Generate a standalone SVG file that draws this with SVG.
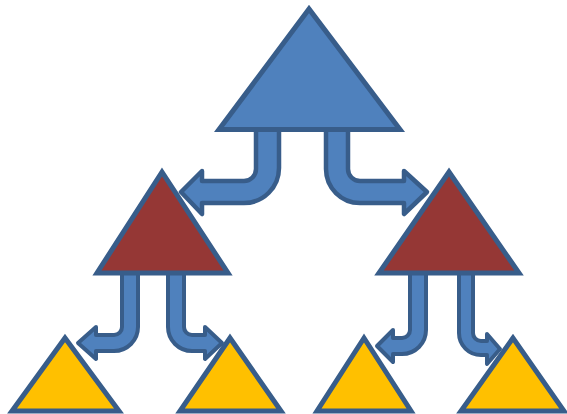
<svg xmlns="http://www.w3.org/2000/svg" width="567" height="414" viewBox="0 0 567 414">
<style>
.arrow{fill:#4F81BD;stroke:#385D8A;stroke-width:4.5;stroke-linejoin:round}
.small{stroke-width:4}
.tri{stroke:#385D8A;stroke-width:5;stroke-linejoin:miter}
.blue{fill:#4F81BD}
.red{fill:#953735}
.yellow{fill:#FFC000}
</style>
<rect width="567" height="414" fill="#FFFFFF"/>
<g id="connectors">
<path class="arrow" d="M256,120 L256,169 A12,12 0 0 1 244,181 L202,181 L202,171 L181,192 L202,214 L202,203 L244,203 A35,35 0 0 0 279,168 L279,120 Z"/>
<path class="arrow" d="M348,120 L348,169 A12,12 0 0 0 360,181 L404,181 L404,171 L427,192 L404,214 L404,203 L360,203 A34,34 0 0 1 326,169 L326,120 Z"/>
<path class="arrow small" d="M122,265 L122,327 A8,8 0 0 1 114,335 L96,335 L96,327 L78,343 L96,359 L96,351 L114,351 A24,24 0 0 0 138,327 L138,265 Z"/>
<path class="arrow small" d="M184,265 L184,327 A8,8 0 0 0 192,335 L205,335 L205,327 L222,343 L205,359 L205,351 L192,351 A24,24 0 0 1 168,327 L168,265 Z"/>
<path class="arrow small" d="M410,265 L410,330 A8,8 0 0 1 402,338 L393,338 L393,330 L377,346 L393,362 L393,354 L402,354 A24,24 0 0 0 426,330 L426,265 Z"/>
<path class="arrow small" d="M473,265 L473,333 A8,8 0 0 0 481,341 L487,341 L487,334 L500,349 L487,364 L487,355 L481,355 A22,22 0 0 1 459,333 L459,265 Z"/>
</g>
<g id="top"><polygon class="tri blue" points="309,9 219,129.5 400,129.5"/></g>
<g id="midLeft"><polygon class="tri red" points="162,172 97,273 228,273"/></g>
<g id="midRight"><polygon class="tri red" points="449,172 379,273 519,273"/></g>
<g id="bottom1"><polygon class="tri yellow" points="65,338 12,411 119,411"/></g>
<g id="bottom2"><polygon class="tri yellow" points="230,338 180,411 281,411"/></g>
<g id="bottom3"><polygon class="tri yellow" points="364,338 317,411 411,411"/></g>
<g id="bottom4"><polygon class="tri yellow" points="513,338 461,411 564,411"/></g>
</svg>
